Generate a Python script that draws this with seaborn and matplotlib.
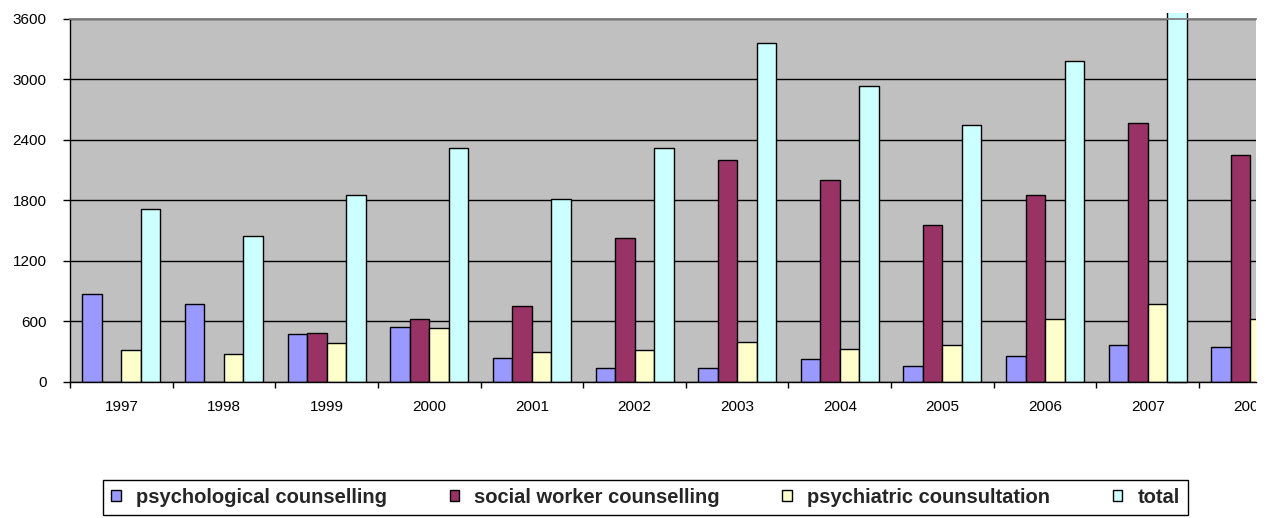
import numpy as np
import pandas as pd
import seaborn as sns
import matplotlib.pyplot as plt
from matplotlib.patches import Patch, Rectangle
from matplotlib.transforms import Bbox, TransformedBbox

# Counselling activity per year
years = ["1997", "1998", "1999", "2000", "2001", "2002",
         "2003", "2004", "2005", "2006", "2007", "2008"]
series = ["psychological counselling", "social worker counselling",
          "psychiatric counsultation", "total"]
psychological = [870, 768, 470, 540, 238, 136, 136, 225, 156, 258, 364, 344]
social_worker = [0, 0, 486, 625, 748, 1429, 2200, 2005, 1552, 1850, 2568, 2253]
psychiatric = [311, 278, 381, 536, 295, 311, 397, 328, 361, 622, 768, 622]
total = [1711, 1449, 1853, 2322, 1813, 2322, 3358, 2938, 2551, 3180, 3700, np.nan]
colors = ["#9999FF", "#993366", "#FFFFCC", "#CCFFFF"]

df = pd.DataFrame({"year": years,
                   series[0]: psychological,
                   series[1]: social_worker,
                   series[2]: psychiatric,
                   series[3]: total}).melt(id_vars="year", var_name="series",
                                            value_name="value")

sns.set_theme(style="white")
plt.rcParams["font.family"] = ["Liberation Sans", "DejaVu Sans"]

W, H = 1271, 518
fig = plt.figure(figsize=(W / 100, H / 100), dpi=100)
left, right, top, bottom = 70, 1256, 19, 381.7
ax = fig.add_axes([left / W, (H - bottom) / H, (right - left) / W, (bottom - top) / H])
ax.set_facecolor("#C0C0C0")

sns.barplot(data=df, x="year", y="value", hue="series", order=years,
            hue_order=series, palette=colors, saturation=1, width=0.76, gap=0,
            edgecolor="black", linewidth=1, errorbar=None, legend=False, ax=ax)

# the tallest bar runs past the plot frame up to the chart border
cut = Rectangle((0, 0), 1, 1 - 13 / H, transform=fig.transFigure)
for bar in ax.containers[3]:
    if bar.get_height() > 3600:
        bar.set_clip_path(cut)

ax.set_yticks(np.arange(0, 3601, 600))
ax.set_xticks(range(len(years)))
ax.set_xticklabels(years)
ax.set_xticks(np.arange(-0.5, len(years) - 1, 1), minor=True)
ax.set_ylim(0, 3600)
# the chart border cuts through the last year group
ax.set_xlim(-0.5, -0.5 + (right - left) / 102.64)

ax.grid(axis="y", color="black", linewidth=1)
ax.set_axisbelow(True)
ax.set_xlabel("")
ax.set_ylabel("")

ax.tick_params(axis="y", which="major", direction="out", length=5, width=1,
               color="black", pad=12, labelsize=11, labelcolor="black", left=True)
ax.tick_params(axis="x", which="major", length=0, pad=13.5, labelsize=11,
               labelcolor="black")
ax.tick_params(axis="x", which="minor", direction="out", length=4, width=1,
               color="black", bottom=True)

for side in ["left", "bottom"]:
    ax.spines[side].set_color("black")
    ax.spines[side].set_linewidth(1)
ax.spines["top"].set_color("#808080")
ax.spines["top"].set_linewidth(1.3)
ax.spines["right"].set_visible(False)

edge = TransformedBbox(Bbox([[0, 0], [right / W, 1]]), fig.transFigure)
last = ax.xaxis.get_major_ticks()[-1].label1
last.set_clip_box(edge)
last.set_clip_on(True)

handles = [Patch(facecolor=c, edgecolor="black", linewidth=1) for c in colors]
leg = fig.legend(handles, series, ncol=4, mode="expand",
                 bbox_to_anchor=(103 / W, 1 - 516 / H, (1188 - 103) / W, 37 / H),
                 loc="center", borderaxespad=0, frameon=True, fancybox=False,
                 framealpha=1, edgecolor="black", facecolor="white",
                 borderpad=0.42, handlelength=0.48, handleheight=0.48,
                 handletextpad=0.75, prop={"weight": "bold", "size": 14.5})
leg.get_frame().set_linewidth(1)

fig.savefig("out.png", dpi=100, facecolor="white")
